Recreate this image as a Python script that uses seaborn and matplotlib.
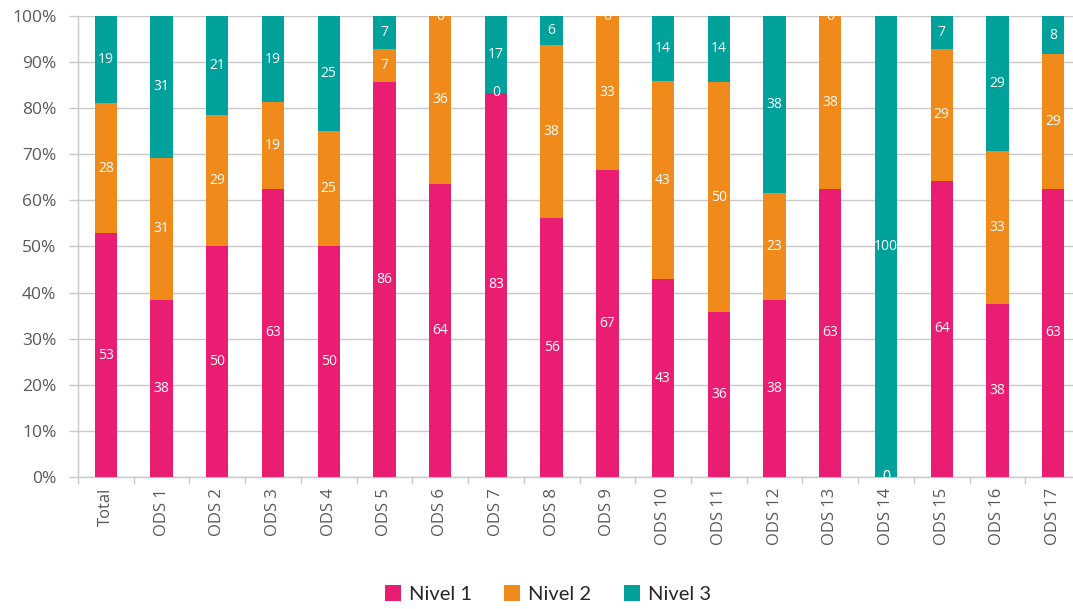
import numpy as np
import pandas as pd
import matplotlib
matplotlib.use("Agg")
import matplotlib.pyplot as plt
import seaborn as sns
from matplotlib.patches import Patch

categories = ["Total", "ODS 1", "ODS 2", "ODS 3", "ODS 4", "ODS 5", "ODS 6", "ODS 7", "ODS 8",
              "ODS 9", "ODS 10", "ODS 11", "ODS 12", "ODS 13", "ODS 14", "ODS 15", "ODS 16", "ODS 17"]
nivel1 = [52.9, 38.4, 50.0, 62.5, 50.0, 85.7, 63.6, 83.3, 56.2, 66.7, 42.9, 35.7, 38.4, 62.5, 0.0, 64.3, 37.5, 62.5]
nivel2 = [28.2, 30.8, 28.6, 18.8, 25.0, 7.1, 36.4, 0.0, 37.5, 33.3, 42.9, 50.0, 23.2, 37.5, 0.0, 28.6, 33.3, 29.2]
nivel3 = [18.9, 30.8, 21.4, 18.7, 25.0, 7.2, 0.0, 16.7, 6.3, 0.0, 14.2, 14.3, 38.4, 0.0, 100.0, 7.1, 29.2, 8.3]
series_names = ["Nivel 1", "Nivel 2", "Nivel 3"]
colors = ["#E91E73", "#F08A1A", "#00A19A"]

df = pd.DataFrame({"cat": categories, "n1": nivel1, "n2": nivel2, "n3": nivel3})
df["c1"] = df["n1"]
df["c2"] = df["n1"] + df["n2"]
df["c3"] = df["c2"] + df["n3"]

sns.set_theme(style="white")
plt.rcParams["font.family"] = ["Open Sans", "DejaVu Sans"]

fig = plt.figure(figsize=(10.73, 6.09), dpi=100)
W, H = 1073, 609
ax = fig.add_axes([78 / W, (H - 477) / H, (1081 - 78) / W, (477 - 16) / H])

grid_c = "#C9C9C9"
for col, c in zip(["c3", "c2", "c1"], colors[::-1]):
    sns.barplot(data=df, x="cat", y=col, color=c, width=0.4, saturation=1,
                ax=ax, order=categories, linewidth=0, zorder=3)

ax.set_ylim(0, 100)
ax.set_xlim(-0.5, len(categories) - 0.5)
ax.set_yticks(np.arange(0, 101, 10))
ax.set_yticklabels([f"{v}%" for v in range(0, 101, 10)])
ax.yaxis.grid(True, color=grid_c, linewidth=1, zorder=0)
ax.set_axisbelow(True)
ax.set_xlabel("")
ax.set_ylabel("")

for s in ["top", "right"]:
    ax.spines[s].set_visible(False)
for s in ["left", "bottom"]:
    ax.spines[s].set_color(grid_c)
    ax.spines[s].set_linewidth(1)

ax.tick_params(axis="y", which="major", length=6.5, color=grid_c, width=1, pad=9,
               labelsize=12.5, labelcolor="#595959", left=True)
ax.set_xticks(range(len(categories)))
ax.set_xticklabels(categories, rotation=90, ha="center", va="top")
ax.tick_params(axis="x", which="major", length=0, pad=8, labelsize=12, labelcolor="#595959")
ax.set_xticks(np.arange(-0.5, len(categories), 1), minor=True)
ax.tick_params(axis="x", which="minor", length=5, color=grid_c, width=1, bottom=True)

# value labels
for i in range(len(categories)):
    bottoms = [0, df["c1"][i], df["c2"][i]]
    vals = [nivel1[i], nivel2[i], nivel3[i]]
    for b, v in zip(bottoms, vals):
        ax.text(i, b + v / 2, str(int(np.floor(v + 0.5))), ha="center", va="center",
                color="white", fontsize=10, zorder=5, clip_on=False)

handles = [Patch(facecolor=c, edgecolor="none") for c in colors]
fig.legend(handles, series_names, loc="center", bbox_to_anchor=(548 / W, 1 - 594 / H),
           ncol=3, frameon=False, prop={"family": ["Lato", "DejaVu Sans"], "size": 14.5},
           handlelength=0.8, handleheight=0.8, handletextpad=0.4, columnspacing=1.6)

fig.savefig("out.png", dpi=100)
